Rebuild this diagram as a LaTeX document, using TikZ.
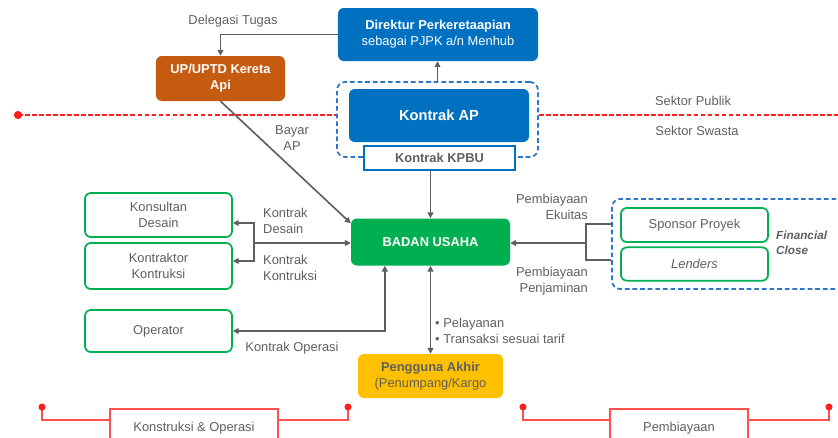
\documentclass[tikz,border=0pt]{standalone}
\usepackage{fontspec}
\setmainfont{Liberation Sans}
\usetikzlibrary{arrows.meta}
\definecolor{pjpkblue}{RGB}{0,112,192}
\definecolor{dashblue}{RGB}{46,117,200}
\definecolor{uporange}{RGB}{197,90,17}
\definecolor{bugreen}{RGB}{0,176,80}
\definecolor{usergold}{RGB}{255,192,0}
\definecolor{txtgray}{RGB}{95,95,95}
\definecolor{arrgray}{RGB}{95,95,95}
\definecolor{sektorred}{RGB}{255,30,30}
\definecolor{bracketred}{RGB}{255,80,80}
\tikzset{
  solidbox/.style={rounded corners=5pt, text=white, align=center, inner sep=0pt},
  partybox/.style={draw=bugreen, line width=1.5pt, rounded corners=5pt, fill=white,
    text=txtgray, align=center, inner sep=0pt, minimum width=4.41cm},
  groupbox/.style={draw=dashblue, line width=1.5pt, dash pattern=on 4pt off 2.5pt,
    rounded corners=7pt, inner sep=0pt},
  lbl/.style={text=txtgray, inner sep=0pt},
  flow/.style={draw=arrgray, line width=1.4pt, -{Triangle[length=5pt,width=5pt]}},
  flowboth/.style={draw=arrgray, line width=1.4pt, {Triangle[length=5pt,width=5pt]}-{Triangle[length=5pt,width=5pt]}},
  joint/.style={draw=arrgray, line width=1.4pt},
  sektor/.style={draw=sektorred, line width=1.6pt, dash pattern=on 4pt off 2pt},
  bracket/.style={draw=bracketred, line width=1pt},
  sidebox/.style={draw=bracketred, line width=1pt, fill=white, text=txtgray,
    inner sep=0pt, minimum height=1.08cm, text depth=0pt}
}
\begin{document}
\fontsize{11}{13.5}\selectfont
\begin{tikzpicture}[x=0.03cm, y=-0.03cm]
  \useasboundingbox (0,0) rectangle (838,437);
  \clip (0,0) rectangle (838,437);
  % public side
  \node[solidbox, fill=pjpkblue, minimum width=6cm, minimum height=1.59cm] (dir) at (438,34.5)
    {\textbf{Direktur Perkeretaapian}\\sebagai PJPK a/n Menhub};
  \node[solidbox, fill=uporange, minimum width=3.87cm, minimum height=1.35cm, font=\bfseries] (upt) at (220.5,78.5)
    {UP/UPTD Kereta\\Api};
  \node[groupbox, minimum width=6.03cm, minimum height=2.25cm] (apgroup) at (437.5,119.5) {};
  \node[solidbox, fill=pjpkblue, minimum width=5.4cm, minimum height=1.59cm,
    font=\bfseries\fontsize{12.5}{15}\selectfont] (kontrakap) at (439,115.5) {Kontrak AP};
  \node[draw=pjpkblue, line width=1pt, fill=white, text=txtgray, font=\bfseries, inner sep=0pt,
    minimum width=4.53cm, minimum height=0.72cm] (kpbu) at (439.5,158) {Kontrak KPBU};
  % sector line
  \coordinate (redL) at (18,115);
  \coordinate (redR) at (845,115);
  \draw[sektor] (redL) -- (redL -| apgroup.west);
  \draw[sektor] (apgroup.east |- redR) -- (redR);
  \fill[sektorred] (redL) circle (3.5pt);
  \node[lbl] (publik) at (693,101) {Sektor Publik};
  \node[lbl] (swasta) at (697,131) {Sektor Swasta};
  % private side
  \node[solidbox, fill=bugreen, minimum width=4.77cm, minimum height=1.41cm, font=\bfseries] (bu) at (430.5,242) {BADAN USAHA};
  \node[partybox, minimum height=1.32cm] (konsultan) at (158.5,215) {Konsultan\\Desain};
  \node[partybox, minimum height=1.38cm] (kontraktor) at (158.5,266) {Kontraktor\\Kontruksi};
  \node[partybox, minimum height=1.26cm] (operator) at (158.5,331) {Operator};
  \node[solidbox, fill=usergold, text=txtgray, minimum width=4.35cm, minimum height=1.32cm] (pengguna) at (430.5,376)
    {\textbf{Pengguna Akhir}\\(Penumpang/Kargo};
  \node[groupbox, minimum width=7.2cm, minimum height=2.7cm] (finclose) at (732,244) {};
  \node[partybox, minimum height=1.02cm] (sponsor) at (694.5,225) {Sponsor Proyek};
  \node[partybox, minimum height=1.0cm, font=\itshape] (lenders) at (694.5,264) {Lenders};
  \node[lbl, anchor=west, align=left, font=\bfseries\itshape\fontsize{10}{12.5}\selectfont] (fclabel) at (776,243) {Financial\\Close};
  % connectors
  \draw[flow] (dir.west) -| (upt.north);
  \node[lbl] (delegasi) at (233,21) {Delegasi Tugas};
  \draw[flow] (apgroup.north) -- (apgroup.north |- dir.south);
  \draw[flow] (upt.south) -- ([yshift=-0.15cm]bu.north west);
  \node[lbl, align=center] (bayar) at (292,138) {Bayar\\AP};
  \draw[flow] (kpbu.south -| bu.north) -- (bu.north);
  \coordinate (jl) at (254,243);
  \draw[flow] (jl) -- (jl -| bu.west);
  \draw[flow] (jl) |- ([yshift=-0.24cm]konsultan.east);
  \draw[flow] (jl) |- ([yshift=0.15cm]kontraktor.east);
  \node[lbl, anchor=west, align=left] (kdesain) at (263,221) {Kontrak\\Desain};
  \node[lbl, anchor=west, align=left] (kkontruksi) at (263,268) {Kontrak\\Kontruksi};
  \draw[flowboth] (operator.east) -| ([xshift=-1.37cm]bu.south);
  \node[lbl] (koperasi) at (292,348) {Kontrak Operasi};
  \draw[flowboth] (bu.south) -- (pengguna.north);
  \node[lbl, anchor=west, align=left] (layanan) at (435,331) {\textbullet\ Pelayanan\\\textbullet\ Transaksi sesuai tarif};
  \coordinate (jr) at (586,243);
  \draw[flow] (jr) -- (jr -| bu.east);
  \draw[joint] ([yshift=0.6cm]finclose.west) -| (jr) |- ([yshift=-0.48cm]finclose.west);
  \node[lbl, anchor=east, align=right] (ekuitas) at (588,207) {Pembiayaan\\Ekuitas};
  \node[lbl, anchor=east, align=right] (penjaminan) at (588,281) {Pembiayaan\\Penjaminan};
  % bottom brackets
  \node[sidebox, minimum width=5.04cm] (konsops) at (194,427) {Konstruksi \& Operasi};
  \node[sidebox, minimum width=4.14cm] (pembiayaan) at (679,427) {Pembiayaan};
  \coordinate (kL) at (42,407);  \coordinate (kR) at (348,407);
  \coordinate (pL) at (523,407); \coordinate (pR) at (829,407);
  \draw[bracket] (kL) |- ([yshift=0.21cm]konsops.west);
  \draw[bracket] (kR) |- ([yshift=0.21cm]konsops.east);
  \draw[bracket] (pL) |- ([yshift=0.21cm]pembiayaan.west);
  \draw[bracket] (pR) |- ([yshift=0.21cm]pembiayaan.east);
  \foreach \p in {kL,kR,pL,pR} \fill[sektorred] (\p) circle (3pt);
\end{tikzpicture}
\end{document}
